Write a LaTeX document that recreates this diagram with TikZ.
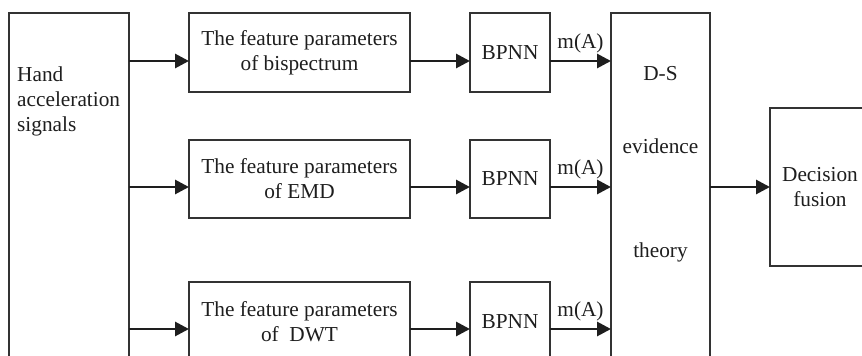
\documentclass[tikz,border=0pt]{standalone}
\usepackage{fontspec}
\setmainfont{Liberation Serif}
\usetikzlibrary{arrows.meta,calc}
\definecolor{ink}{HTML}{1E1E1E}
\definecolor{edge}{HTML}{333333}
\begin{document}
\begin{tikzpicture}[x=1pt,y=-1pt,
  every node/.append style={font=\fontsize{21.3}{25}\selectfont},
  box/.style={draw=edge, line width=1.5pt, rectangle, inner sep=0pt,
    outer sep=0pt, anchor=north west, text=ink, align=center},
  arr/.style={draw=ink, line width=2.9pt, -{Triangle[length=14pt,width=14pt]}},
  lbl/.style={text=ink, inner sep=0pt, align=center}]

\useasboundingbox (0,0) rectangle (862,356);
\clip (0,0) rectangle (862,356);

% input block
\node[box, minimum width=120pt, minimum height=380pt] (hand) at (9,13) {};
\node[lbl, anchor=west, align=left] (handtxt) at ($(hand.north west)+(8,88)$)
  {Hand\\acceleration\\signals};

% feature extraction blocks
\node[box, minimum width=221pt, minimum height=79pt] (f1) at (189,13)
  {The feature parameters\\of bispectrum};
\node[box, minimum width=221pt, minimum height=78pt] (f2) at (189,140)
  {The feature parameters\\of EMD};
\node[box, minimum width=221pt, minimum height=79pt] (f3) at (189,282)
  {The feature parameters\\of~\ DWT};

% neural networks
\node[box, minimum width=80pt, minimum height=79pt] (b1) at (470,13) {BPNN};
\node[box, minimum width=80pt, minimum height=78pt] (b2) at (470,140) {BPNN};
\node[box, minimum width=80pt, minimum height=79pt] (b3) at (470,282) {BPNN};

% evidence combination
\node[box, minimum width=99pt, minimum height=380pt] (ds) at (611,13) {};
\node[lbl] (ds1) at ($(ds.north)+(0,61)$) {D-S};
\node[lbl] (ds2) at ($(ds.north)+(0,133)$) {evidence};
\node[lbl] (ds3) at ($(ds.north)+(0,239)$) {theory};

% output block
\node[box, minimum width=100pt, minimum height=158pt] (dec) at (770,108)
  {Decision\\fusion};

% signal rows
\coordinate (y1) at ($(f1.north west)+(0,48)$);
\coordinate (y2) at ($(f2.north west)+(0,47)$);
\coordinate (y3) at ($(f3.north west)+(0,47)$);

\draw[arr] (hand.east |- y1) -- (f1.west |- y1);
\draw[arr] (hand.east |- y2) -- (f2.west |- y2);
\draw[arr] (hand.east |- y3) -- (f3.west |- y3);

\draw[arr] (f1.east |- y1) -- (b1.west |- y1);
\draw[arr] (f2.east |- y2) -- (b2.west |- y2);
\draw[arr] (f3.east |- y3) -- (b3.west |- y3);

\draw[arr] (b1.east |- y1) -- node[lbl, yshift=18pt] (m1) {m(A)} (ds.west |- y1);
\draw[arr] (b2.east |- y2) -- node[lbl, yshift=18pt] (m2) {m(A)} (ds.west |- y2);
\draw[arr] (b3.east |- y3) -- node[lbl, yshift=18pt] (m3) {m(A)} (ds.west |- y3);

\draw[arr] (ds.east |- dec.west) -- (dec.west);

\end{tikzpicture}
\end{document}
